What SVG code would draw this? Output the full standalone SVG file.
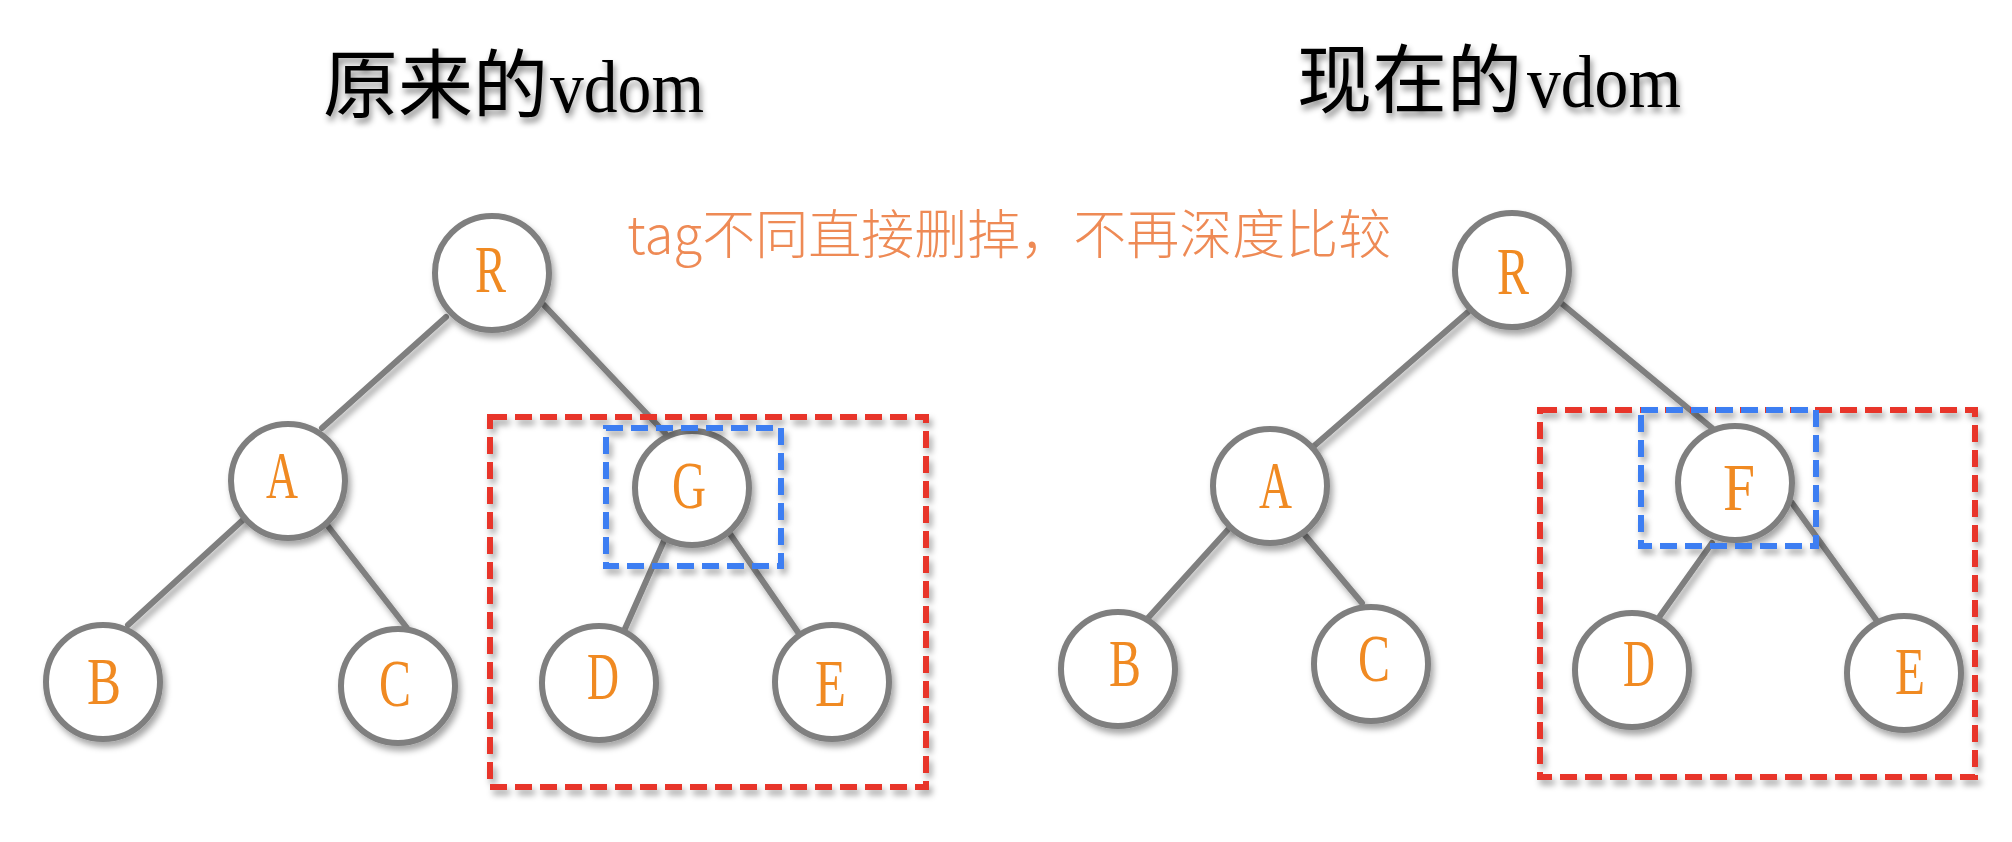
<svg xmlns="http://www.w3.org/2000/svg" width="2012" height="842" viewBox="0 0 2012 842">
<defs>
<filter id="sh" x="-30%" y="-30%" width="160%" height="160%">
<feDropShadow dx="3" dy="5" stdDeviation="3" flood-color="#000" flood-opacity="0.35"/>
</filter>
<filter id="tsh" x="-10%" y="-30%" width="120%" height="170%">
<feDropShadow dx="2" dy="5" stdDeviation="3" flood-color="#000" flood-opacity="0.45"/>
</filter>
<style>
.title{font-family:"Noto Sans CJK SC","Noto Sans CJK JP",sans-serif;font-size:75px;fill:#000}
.lat{font-family:"Liberation Serif",serif}
.note{font-family:"Noto Sans CJK SC","Noto Sans CJK JP",sans-serif;font-size:53px;fill:#EE8A55;font-weight:300}
.edge{stroke:#7f7f7f;stroke-width:6;stroke-linecap:round;fill:none}
.node circle{fill:#fff;stroke:#7f7f7f;stroke-width:6}
.node text{font-family:"Liberation Serif",serif;font-size:68px;fill:#F08A24;text-anchor:start}
.red{fill:none;stroke:#E8352A;stroke-width:6;stroke-dasharray:17 8}
.blue{fill:none;stroke:#3C7EF2;stroke-width:6;stroke-dasharray:17 8}
</style>
</defs>
<rect width="2012" height="842" fill="#fff"/>

<g id="titles" filter="url(#tsh)">
<text class="title" x="323" y="112">原来的<tspan class="lat" x="550" textLength="154" lengthAdjust="spacingAndGlyphs">vdom</tspan></text>
<text class="title" x="1297" y="107">现在的<tspan class="lat" x="1527" textLength="154" lengthAdjust="spacingAndGlyphs">vdom</tspan></text>
</g>
<text id="note" class="note" x="627" y="254">tag不同直接删掉，不再深度比较</text>

<g id="connectors" filter="url(#sh)">
<line class="edge" x1="446" y1="317" x2="322" y2="428"/>
<line class="edge" x1="542" y1="303" x2="665" y2="433"/>
<line class="edge" x1="244" y1="519" x2="128" y2="625"/>
<line class="edge" x1="324" y1="521" x2="407" y2="628"/>
<line class="edge" x1="667" y1="534" x2="624" y2="631"/>
<line class="edge" x1="728" y1="531" x2="802" y2="638"/>
<line class="edge" x1="1468" y1="312" x2="1314" y2="446"/>
<line class="edge" x1="1561" y1="303" x2="1712" y2="428"/>
<line class="edge" x1="1234" y1="523" x2="1148" y2="618"/>
<line class="edge" x1="1304" y1="534" x2="1362" y2="603"/>
<line class="edge" x1="1712" y1="543" x2="1660" y2="616"/>
<line class="edge" x1="1792" y1="503" x2="1877" y2="621"/>
</g>

<g id="left-tree" filter="url(#sh)">
<g id="L-R" class="node"><circle cx="492" cy="273" r="57"/><text x="475" y="292" textLength="31" lengthAdjust="spacingAndGlyphs">R</text></g>
<g id="L-A" class="node"><circle cx="288" cy="481" r="57"/><text x="266" y="498" textLength="32" lengthAdjust="spacingAndGlyphs">A</text></g>
<g id="L-B" class="node"><circle cx="103" cy="682" r="57"/><text x="87" y="704" textLength="34" lengthAdjust="spacingAndGlyphs">B</text></g>
<g id="L-C" class="node"><circle cx="398" cy="686" r="57"/><text x="379" y="706" textLength="32" lengthAdjust="spacingAndGlyphs">C</text></g>
<g id="L-G" class="node"><circle cx="692" cy="488" r="57"/><text x="672" y="508" textLength="34" lengthAdjust="spacingAndGlyphs">G</text></g>
<g id="L-D" class="node"><circle cx="599" cy="683" r="57"/><text x="587" y="699" textLength="32" lengthAdjust="spacingAndGlyphs">D</text></g>
<g id="L-E" class="node"><circle cx="832" cy="682" r="57"/><text x="815" y="706" textLength="31" lengthAdjust="spacingAndGlyphs">E</text></g>
</g>

<g id="right-tree" filter="url(#sh)">
<g id="R-R" class="node"><circle cx="1512" cy="270" r="57"/><text x="1497" y="294" textLength="32" lengthAdjust="spacingAndGlyphs">R</text></g>
<g id="R-A" class="node"><circle cx="1270" cy="486" r="57"/><text x="1259" y="508" textLength="33" lengthAdjust="spacingAndGlyphs">A</text></g>
<g id="R-B" class="node"><circle cx="1118" cy="669" r="57"/><text x="1109" y="686" textLength="32" lengthAdjust="spacingAndGlyphs">B</text></g>
<g id="R-C" class="node"><circle cx="1371" cy="664" r="57"/><text x="1358" y="681" textLength="32" lengthAdjust="spacingAndGlyphs">C</text></g>
<g id="R-F" class="node"><circle cx="1735" cy="483" r="57"/><text x="1723" y="510" textLength="32" lengthAdjust="spacingAndGlyphs">F</text></g>
<g id="R-D" class="node"><circle cx="1632" cy="670" r="57"/><text x="1623" y="686" textLength="32" lengthAdjust="spacingAndGlyphs">D</text></g>
<g id="R-E" class="node"><circle cx="1904" cy="673" r="57"/><text x="1895" y="694" textLength="30" lengthAdjust="spacingAndGlyphs">E</text></g>
</g>

<g id="boxes" filter="url(#sh)">
<rect id="L-red" class="red" x="490" y="417" width="436" height="370"/>
<rect id="L-blue" class="blue" x="606" y="428" width="175" height="138"/>
<rect id="R-red" class="red" x="1540" y="410" width="435" height="367"/>
<rect id="R-blue" class="blue" x="1641" y="410" width="175" height="136"/>
</g>
</svg>
